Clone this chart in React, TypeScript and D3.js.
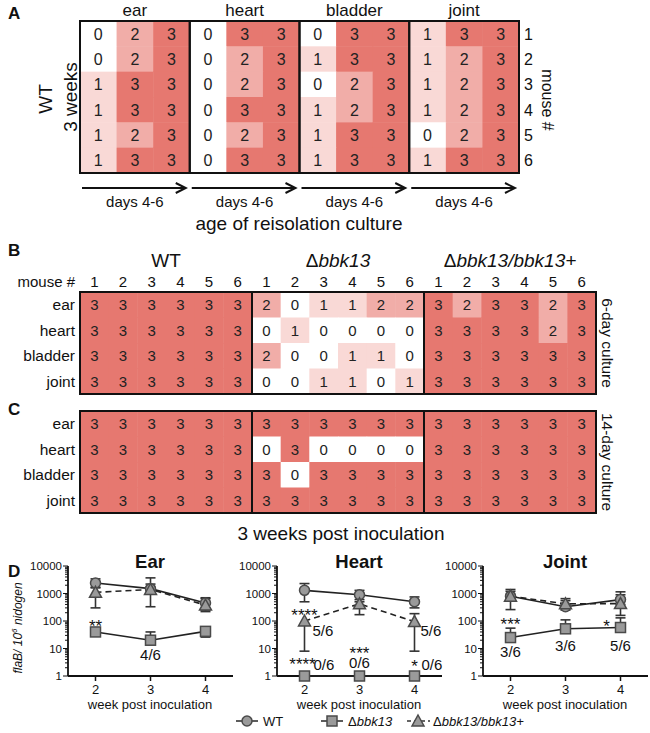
import React from "react";
import * as d3 from "d3";

// ---- panel A: WT, 3 weeks, days 4-6 of reisolation culture (rows = mouse 1..6)
const tissuesA = ["ear", "heart", "bladder", "joint"];
const miceA = [1, 2, 3, 4, 5, 6];
const earA = [[0, 2, 3], [0, 2, 3], [1, 3, 3], [1, 3, 3], [1, 2, 3], [1, 3, 3]];
const heartA = [[0, 3, 3], [0, 2, 3], [0, 2, 3], [0, 3, 3], [0, 2, 3], [0, 3, 3]];
const bladderA = [[0, 3, 3], [1, 3, 3], [0, 2, 3], [1, 2, 3], [1, 3, 3], [1, 3, 3]];
const jointA = [[1, 3, 3], [1, 2, 3], [1, 2, 3], [1, 2, 3], [0, 2, 3], [1, 3, 3]];
const scoresA = [earA, heartA, bladderA, jointA];

// ---- panels B/C: rows = organs, 6 mice per strain
const organs = ["ear", "heart", "bladder", "joint"];
const strains = ["WT", "Δbbk13", "Δbbk13/bbk13+"];
const miceB = [1, 2, 3, 4, 5, 6];
const sixDayWT = [[3, 3, 3, 3, 3, 3], [3, 3, 3, 3, 3, 3], [3, 3, 3, 3, 3, 3], [3, 3, 3, 3, 3, 3]];
const sixDayKO = [[2, 0, 1, 1, 2, 2], [0, 1, 0, 0, 0, 0], [2, 0, 0, 1, 1, 0], [0, 0, 1, 1, 0, 1]];
const sixDayComp = [[3, 2, 3, 3, 2, 3], [3, 3, 3, 3, 2, 3], [3, 3, 3, 3, 3, 3], [3, 3, 3, 3, 3, 3]];
const fourteenDayWT = [[3, 3, 3, 3, 3, 3], [3, 3, 3, 3, 3, 3], [3, 3, 3, 3, 3, 3], [3, 3, 3, 3, 3, 3]];
const fourteenDayKO = [[3, 3, 3, 3, 3, 3], [0, 3, 0, 0, 0, 0], [3, 0, 3, 3, 3, 3], [3, 3, 3, 3, 3, 3]];
const fourteenDayComp = [[3, 3, 3, 3, 3, 3], [3, 3, 3, 3, 3, 3], [3, 3, 3, 3, 3, 3], [3, 3, 3, 3, 3, 3]];

// ---- panel D: flaB / 10^6 nidogen
const weeks = [2, 3, 4];
const earWT = [2400, 1500, 450];
const earWTLo = [1700, 1100, 250];
const earWTHi = [3400, 2200, 700];
const earKO = [40, 20, 42];
const earKOLo = [40, 20, 26];
const earKOHi = [40, 40, 42];
const earComp = [1100, 1400, 380];
const earCompLo = [300, 330, 220];
const earCompHi = [1600, 3700, 650];

const heartWT = [1300, 900, 500];
const heartWTLo = [500, 600, 300];
const heartWTHi = [2300, 1300, 750];
const heartKO = [1, 1, 1];
const heartKOLo = [1, 1, 1];
const heartKOHi = [1, 1, 1];
const heartComp = [100, 420, 95];
const heartCompLo = [8, 170, 8];
const heartCompHi = [100, 500, 185];

const jointWT = [800, 330, 600];
const jointWTLo = [600, 250, 400];
const jointWTHi = [1400, 550, 1150];
const jointKO = [25, 52, 58];
const jointKOLo = [25, 52, 58];
const jointKOHi = [55, 110, 130];
const jointComp = [800, 420, 430];
const jointCompLo = [260, 300, 160];
const jointCompHi = [1200, 650, 900];

const earNotes = [
  { week: 2, value: 40, text: "**", dx: 0, dy: 0, anchor: "middle" },
  { week: 3, value: 20, text: "4/6", dx: 0, dy: 20, anchor: "middle" },
];
const heartNotes = [
  { week: 2, value: 100, text: "****", dx: 0, dy: 0, anchor: "middle" },
  { week: 2, value: 100, text: "5/6", dx: 8, dy: 15, anchor: "start" },
  { week: 4, value: 95, text: "5/6", dx: 6, dy: 14, anchor: "start" },
  { week: 2, value: 1, text: "****", dx: -2, dy: -6.5, anchor: "middle" },
  { week: 2, value: 1, text: "0/6", dx: 9, dy: -6, anchor: "start" },
  { week: 3, value: 1, text: "***", dx: 0, dy: -17, anchor: "middle" },
  { week: 3, value: 1, text: "0/6", dx: 0, dy: -8, anchor: "middle" },
  { week: 4, value: 1, text: "*", dx: 0, dy: -4, anchor: "middle" },
  { week: 4, value: 1, text: "0/6", dx: 7, dy: -6, anchor: "start" },
];
const jointNotes = [
  { week: 2, value: 25, text: "***", dx: 0, dy: -8, anchor: "middle" },
  { week: 2, value: 25, text: "3/6", dx: 0, dy: 19, anchor: "middle" },
  { week: 3, value: 52, text: "3/6", dx: 0, dy: 22, anchor: "middle" },
  { week: 4, value: 58, text: "5/6", dx: 0, dy: 23, anchor: "middle" },
  { week: 4, value: 58, text: "*", dx: -14, dy: 4, anchor: "middle" },
];

const FONT = "'Liberation Sans', Arial, Helvetica, sans-serif";
const color = d3
  .scaleOrdinal<number, string>()
  .domain([0, 1, 2, 3])
  .range(["#ffffff", "#f9d9d6", "#f1ada8", "#e67870"]);

function PanelA() {
  const x = d3.scaleBand<number>().domain(d3.range(12)).range([80, 519]);
  const y = d3.scaleBand<number>().domain(d3.range(6)).range([21, 173]);
  const cw = x.bandwidth();
  return (
    <g>
      <text x={8} y={19} fontSize={17} fontWeight="bold">A</text>
      {scoresA.map((rows, t) =>
        rows.map((row, r) =>
          row.map((v, j) => {
            const cx = x(t * 3 + j)!;
            return (
              <g key={`${t}-${r}-${j}`}>
                <rect x={cx} y={y(r)} width={cw + 0.5} height={y.bandwidth() + 0.5} fill={color(v)} />
                <text x={cx + cw / 2} y={y(r)! + y.bandwidth() / 2 + 6} textAnchor="middle" fontSize={16} fill="#222">{v}</text>
              </g>
            );
          })
        )
      )}
      {tissuesA.map((t, i) => {
        const x0 = x(i * 3)!;
        const x1 = x(i * 3 + 2)! + cw;
        const ay = 188;
        return (
          <g key={t}>
            <rect x={x0} y={21} width={x1 - x0} height={152} fill="none" stroke="#111" strokeWidth={2} />
            <text x={(x0 + x1) / 2} y={16} textAnchor="middle" fontSize={17}>{t}</text>
            <line x1={x0 + 2} x2={x1 - 4} y1={ay} y2={ay} stroke="#111" strokeWidth={2} />
            <path d={`M${x1 - 14},${ay - 5} L${x1 - 4},${ay} L${x1 - 14},${ay + 5}`} fill="none" stroke="#111" strokeWidth={2} />
            <text x={(x0 + x1) / 2} y={207} textAnchor="middle" fontSize={15}>days 4-6</text>
          </g>
        );
      })}
      {miceA.map((m, i) => (
        <text key={m} x={524} y={y(i)! + y.bandwidth() / 2 + 6} fontSize={16}>{m}</text>
      ))}
      <text transform="translate(542,100) rotate(90)" textAnchor="middle" fontSize={16}>mouse #</text>
      <text transform="translate(52,99) rotate(-90)" textAnchor="middle" fontSize={19}>WT</text>
      <text transform="translate(77,97) rotate(-90)" textAnchor="middle" fontSize={19}>3 weeks</text>
      <text x={299} y={230} textAnchor="middle" fontSize={19}>age of reisolation culture</text>
    </g>
  );
}

function StrainLabel({ name, x, y }: { name: string; x: number; y: number }) {
  if (name === "WT") return <text x={x} y={y} textAnchor="middle" fontSize={19}>WT</text>;
  return (
    <text x={x} y={y} textAnchor="middle" fontSize={19}>
      Δ<tspan fontStyle="italic">{name.slice(1)}</tspan>
    </text>
  );
}

function Grid({ top, data, side }: { top: number; data: number[][][]; side: string }) {
  const x = d3.scaleBand<number>().domain(d3.range(18)).range([80, 596]);
  const y = d3.scaleBand<number>().domain(d3.range(4)).range([top, top + 102]);
  const cw = x.bandwidth();
  return (
    <g>
      {data.map((grp, g) =>
        grp.map((row, r) =>
          row.map((v, j) => {
            const cx = x(g * 6 + j)!;
            return (
              <g key={`${g}-${r}-${j}`}>
                <rect x={cx} y={y(r)} width={cw + 0.5} height={y.bandwidth() + 0.5} fill={color(v)} />
                <text x={cx + cw / 2} y={y(r)! + y.bandwidth() / 2 + 5.5} textAnchor="middle" fontSize={15} fill="#222">{v}</text>
              </g>
            );
          })
        )
      )}
      {strains.map((s, g) => (
        <rect key={s} x={x(g * 6)} y={top} width={cw * 6} height={102} fill="none" stroke="#111" strokeWidth={2} />
      ))}
      {organs.map((o, r) => (
        <text key={o} x={75} y={y(r)! + y.bandwidth() / 2 + 5.5} textAnchor="end" fontSize={15.5}>{o}</text>
      ))}
      <text transform={`translate(602,${top + 51}) rotate(90)`} textAnchor="middle" fontSize={15.5}>{side}</text>
    </g>
  );
}

function PanelBC() {
  const x = d3.scaleBand<number>().domain(d3.range(18)).range([80, 596]);
  const cw = x.bandwidth();
  return (
    <g>
      <text x={8} y={256} fontSize={17} fontWeight="bold">B</text>
      <text x={8} y={415} fontSize={17} fontWeight="bold">C</text>
      {strains.map((s, g) => (
        <StrainLabel key={s} name={s} x={x(g * 6)! + cw * 3} y={267} />
      ))}
      <text x={75} y={287} textAnchor="end" fontSize={15}>mouse #</text>
      {strains.map((s, g) =>
        miceB.map((m, j) => (
          <text key={`${s}${m}`} x={x(g * 6 + j)! + cw / 2} y={287} textAnchor="middle" fontSize={15}>{m}</text>
        ))
      )}
      <Grid top={292} data={[sixDayWT, sixDayKO, sixDayComp]} side="6-day culture" />
      <Grid top={411} data={[fourteenDayWT, fourteenDayKO, fourteenDayComp]} side="14-day culture" />
      <text x={341} y={540} textAnchor="middle" fontSize={19}>3 weeks post inoculation</text>
    </g>
  );
}

type Note = { week: number; value: number; text: string; dx: number; dy: number; anchor: string };

function Marker({ kind, cx, cy }: { kind: string; cx: number; cy: number }) {
  const fill = "#9a9a9a";
  const stroke = "#4a4a4a";
  if (kind === "circle") return <circle cx={cx} cy={cy} r={5} fill={fill} stroke={stroke} strokeWidth={1.5} />;
  if (kind === "square") return <rect x={cx - 5} y={cy - 5} width={10} height={10} fill={fill} stroke={stroke} strokeWidth={1.5} />;
  return <path d={`M${cx},${cy - 6} L${cx + 6},${cy + 5} L${cx - 6},${cy + 5} Z`} fill={fill} stroke={stroke} strokeWidth={1.5} />;
}

function TimeCourse(props: {
  x0: number;
  title: string;
  series: { kind: string; dash: string; v: number[]; lo: number[]; hi: number[] }[];
  notes: Note[];
  showLabel: boolean;
}) {
  const { x0, title, series, notes, showLabel } = props;
  const x = d3.scaleLinear().domain([1.5, 4.5]).range([x0, x0 + 165]);
  const y = d3.scaleLog().domain([1, 10000]).range([676, 566]);
  const line = d3.line<[number, number]>().x((d) => x(d[0])).y((d) => y(d[1]));
  const ticks = y.ticks();
  const major = [1, 10, 100, 1000, 10000];
  return (
    <g>
      <text x={x0 + 82} y={568} textAnchor="middle" fontSize={18.5} fontWeight="bold">{title}</text>
      <line x1={x0} x2={x0} y1={566} y2={676} stroke="#111" strokeWidth={1.8} />
      <line x1={x0} x2={x0 + 165} y1={676} y2={676} stroke="#111" strokeWidth={1.8} />
      {ticks.map((t) => (
        <line key={t} x1={x0} x2={x0 - (major.includes(t) ? 5 : 3)} y1={y(t)} y2={y(t)} stroke="#111" strokeWidth={1} />
      ))}
      {major.map((t) => (
        <text key={t} x={x0 - 6} y={y(t) + 4} textAnchor="end" fontSize={11.5}>{t}</text>
      ))}
      {weeks.map((w) => (
        <g key={w}>
          <line x1={x(w)} x2={x(w)} y1={676} y2={681} stroke="#111" strokeWidth={1.5} />
          <text x={x(w)} y={694} textAnchor="middle" fontSize={13}>{w}</text>
        </g>
      ))}
      <text x={x0 + 82} y={709} textAnchor="middle" fontSize={13}>week post inoculation</text>
      {showLabel && (
        <text transform={`translate(22,628) rotate(-90)`} textAnchor="middle" fontSize={12} fontStyle="italic">
          flaB/ 10<tspan fontSize={8} dy={-5}>6</tspan><tspan dy={5}> nidogen</tspan>
        </text>
      )}
      {series.map((s, si) => (
        <g key={si}>
          {weeks.map((w, i) =>
            s.hi[i] > s.lo[i] ? (
              <g key={w} stroke="#333" strokeWidth={1.6}>
                <line x1={x(w)} x2={x(w)} y1={y(s.lo[i])} y2={y(s.hi[i])} />
                {s.hi[i] > s.v[i] && <line x1={x(w) - 5} x2={x(w) + 5} y1={y(s.hi[i])} y2={y(s.hi[i])} />}
                {s.lo[i] < s.v[i] && <line x1={x(w) - 5} x2={x(w) + 5} y1={y(s.lo[i])} y2={y(s.lo[i])} />}
              </g>
            ) : null
          )}
          <path d={line(weeks.map((w, i) => [w, s.v[i]] as [number, number])) || ""} fill="none" stroke="#222" strokeWidth={1.6} strokeDasharray={s.dash} />
        </g>
      ))}
      {series.map((s, si) => (
        <g key={`m${si}`}>
          {weeks.map((w, i) => (
            <Marker key={w} kind={s.kind} cx={x(w)} cy={y(s.v[i])} />
          ))}
        </g>
      ))}
      {notes.map((n, i) => (
        <text key={i} x={x(n.week) + n.dx} y={y(n.value) + n.dy} textAnchor={n.anchor as any} fontSize={n.text.includes("/") ? 15 : 17}>
          {n.text}
        </text>
      ))}
    </g>
  );
}

function PanelD() {
  const mk = (v: number[], lo: number[], hi: number[], kind: string, dash: string) => ({ v, lo, hi, kind, dash });
  return (
    <g>
      <text x={8} y={577} fontSize={17} fontWeight="bold">D</text>
      <TimeCourse
        x0={68}
        title="Ear"
        showLabel
        notes={earNotes}
        series={[
          mk(earWT, earWTLo, earWTHi, "circle", ""),
          mk(earKO, earKOLo, earKOHi, "square", ""),
          mk(earComp, earCompLo, earCompHi, "triangle", "6,4"),
        ]}
      />
      <TimeCourse
        x0={277}
        title="Heart"
        showLabel={false}
        notes={heartNotes}
        series={[
          mk(heartWT, heartWTLo, heartWTHi, "circle", ""),
          mk(heartKO, heartKOLo, heartKOHi, "square", ""),
          mk(heartComp, heartCompLo, heartCompHi, "triangle", "6,4"),
        ]}
      />
      <TimeCourse
        x0={483}
        title="Joint"
        showLabel={false}
        notes={jointNotes}
        series={[
          mk(jointWT, jointWTLo, jointWTHi, "circle", ""),
          mk(jointKO, jointKOLo, jointKOHi, "square", ""),
          mk(jointComp, jointCompLo, jointCompHi, "triangle", "6,4"),
        ]}
      />
      <g fontSize={13}>
        <line x1={236} x2={258} y1={721} y2={721} stroke="#333" strokeWidth={1.6} />
        <Marker kind="circle" cx={247} cy={721} />
        <text x={263} y={726}>WT</text>
        <line x1={321} x2={343} y1={721} y2={721} stroke="#333" strokeWidth={1.6} />
        <Marker kind="square" cx={332} cy={721} />
        <text x={348} y={726}>Δ<tspan fontStyle="italic">bbk13</tspan></text>
        <line x1={407} x2={430} y1={721} y2={721} stroke="#333" strokeWidth={1.6} strokeDasharray="4,3" />
        <Marker kind="triangle" cx={418} cy={721} />
        <text x={433} y={726}>Δ<tspan fontStyle="italic">bbk13/bbk13+</tspan></text>
      </g>
    </g>
  );
}

export default function App() {
  return (
    <svg
      width={650}
      height={733}
      style={{ position: "absolute", left: 0, top: 0, background: "#fff" }}
      fontFamily={FONT}
      fill="#111"
    >
      <PanelA />
      <PanelBC />
      <PanelD />
    </svg>
  );
}
